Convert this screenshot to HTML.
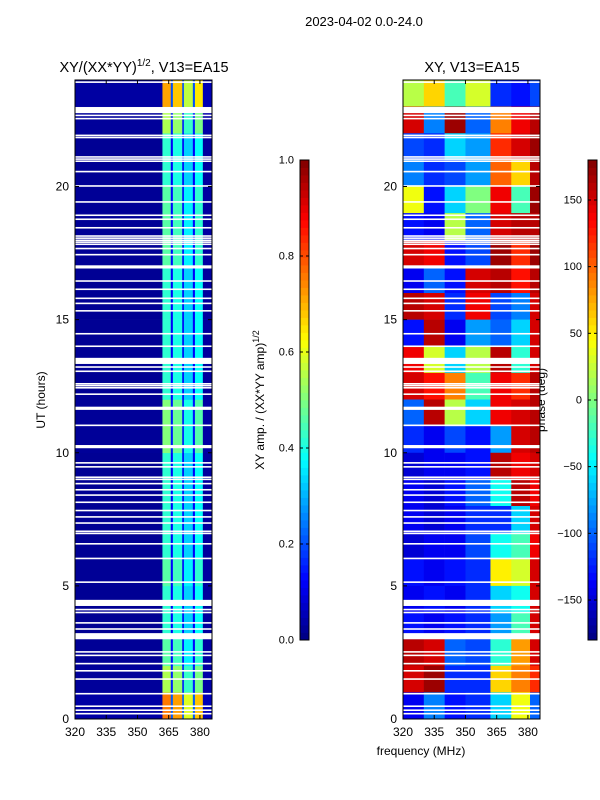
<!DOCTYPE html>
<html><head><meta charset="utf-8"><style>
html,body{margin:0;padding:0;background:#fff;}
svg{display:block;font-family:"Liberation Sans",sans-serif;}
</style></head><body>
<svg id="fig" width="600" height="800" viewBox="0 0 600 800">
<rect width="600" height="800" fill="#fff"/>
<text x="364" y="26" font-size="13" text-anchor="middle">2023-04-02 0.0-24.0</text>
<text x="144" y="72" font-size="14.5" text-anchor="middle">XY/(XX*YY)<tspan font-size="10" dy="-6">1/2</tspan><tspan dy="6">, V13=EA15</tspan></text>
<text x="472" y="72" font-size="14.5" text-anchor="middle">XY, V13=EA15</text>
<text x="421" y="755" font-size="12" text-anchor="middle">frequency (MHz)</text>
<text x="45" y="400" font-size="12" text-anchor="middle" transform="rotate(-90 45 400)">UT (hours)</text>
<text x="264" y="400" font-size="12" text-anchor="middle" transform="rotate(-90 264 400)">XY amp. / (XX*YY amp)<tspan font-size="9" dy="-5">1/2</tspan></text>
<text x="545" y="400" font-size="12" text-anchor="middle" transform="rotate(-90 545 400)">phase (deg)</text>
<g id="left"></g>
<g id="right"></g>
<g id="axes"></g>
</svg>
<script>
// ---- data ----
const freqEdgesAmp = [320, 362, 366, 367, 371.5, 372.3, 376.6, 377.6, 381.4, 385.8];
const ampColumnLevels = [0.02, 0.42, 0.12, 0.4, 0.12, 0.33, 0.12, 0.38, 0.03];
// per-hour multiplier (hour 0-1 first)
const ampHourBoost = [1.8,1.3,1.1,1.0,1.0,1.1,1.0,1.0,1.0,1.0,1.2,1.2,1.0,1.0,1.0,1.0,1.0,1.1,1.1,1.1,1.0,1.0,1.3,1.7];
const freqEdgesPhase = [320, 330, 340, 350, 362, 372, 381, 385.8];
// phase rows, top (23-24 UT) to bottom (0-1 UT)
const phaseRows = [
 [20,60,-20,30,-120,-130,-110],
 [150,-90,170,-100,90,140,160],
 [-110,-120,-60,-80,120,150,170],
 [-90,-120,-110,-80,100,60,160],
 [40,-130,-60,0,140,-20,170],
 [-130,-140,20,-100,150,160,160],
 [150,140,-130,-110,170,120,170],
 [-140,-100,-130,150,160,130,160],
 [160,150,-120,140,-110,-90,150],
 [-130,160,-140,-80,-100,-60,150],
 [140,30,-60,20,160,-30,150],
 [150,130,90,-20,140,120,160],
 [-100,160,20,-60,140,150,160],
 [-120,-140,-110,-130,-80,150,160],
 [-150,-140,-140,-130,160,140,150],
 [-140,-150,-130,-100,-40,160,140],
 [-140,-150,-140,-120,-120,-60,150],
 [-150,-140,-140,-110,-40,-20,140],
 [-130,-140,-130,-120,50,30,150],
 [-140,-130,-140,-120,-60,-40,150],
 [-130,-140,-130,-120,-80,-20,150],
 [160,150,-100,-110,-30,80,150],
 [150,170,-120,-120,60,90,120],
 [-140,-90,-130,-120,-60,40,-100]
];
// flagged (white) time gaps: centre hour and width in hours
const gapHours = [23.92,22.87,22.67,22.55,21.92,21.84,21.11,21.03,20.95,20.56,20.02,19.42,18.92,18.77,18.45,18.14,18.06,17.98,17.91,17.83,17.67,17.44,16.98,16.45,16.14,15.80,15.61,15.33,14.47,14.00,13.45,13.22,13.06,12.59,12.52,12.44,12.20,11.67,11.03,10.23,9.62,9.47,9.08,9.00,8.84,8.61,8.41,8.14,7.83,7.59,7.36,7.05,6.97,6.58,6.03,5.14,4.36,4.11,4.00,3.61,3.38,3.11,2.52,2.39,2.08,1.81,1.50,0.95,0.48,0.33,0.20];
const gapWidths = [0.06,0.23,0.06,0.06,0.06,0.06,0.06,0.06,0.06,0.06,0.06,0.06,0.06,0.06,0.06,0.06,0.06,0.06,0.06,0.06,0.06,0.06,0.12,0.06,0.06,0.06,0.06,0.06,0.06,0.06,0.23,0.06,0.06,0.06,0.06,0.06,0.06,0.12,0.06,0.12,0.06,0.06,0.06,0.06,0.06,0.06,0.06,0.06,0.06,0.06,0.06,0.06,0.06,0.06,0.06,0.06,0.23,0.06,0.06,0.06,0.06,0.23,0.06,0.06,0.06,0.06,0.06,0.06,0.06,0.06,0.06];
const xTicks = [320,335,350,365,380];
const yTicks = [0,5,10,15,20];
const ampTicks = [0.0,0.2,0.4,0.6,0.8,1.0];
const phaseTicks = [-150,-100,-50,0,50,100,150];

// ---- scales ----
const NS="http://www.w3.org/2000/svg";
const Y0=719, Y1=80, FMIN=320, FMAX=385.8;
const yS = h => Y0 - (h/24)*(Y0-Y1);
const xL = f => 75 + (f-FMIN)/(FMAX-FMIN)*137;
const xR = f => 403 + (f-FMIN)/(FMAX-FMIN)*137;
function jet(v){v=Math.max(0,Math.min(1,v));
 const r=Math.max(0,Math.min(1,1.5-Math.abs(4*v-3))),g=Math.max(0,Math.min(1,1.5-Math.abs(4*v-2))),b=Math.max(0,Math.min(1,1.5-Math.abs(4*v-1)));
 return `rgb(${Math.round(r*255)},${Math.round(g*255)},${Math.round(b*255)})`;}
function mk(tag,attrs,parent){const e=document.createElementNS(NS,tag);for(const k in attrs)e.setAttribute(k,attrs[k]);parent.appendChild(e);return e;}

// ---- left amp heatmap ----
const L=document.getElementById('left');
for(let h=0;h<24;h++){for(let c=0;c<ampColumnLevels.length;c++){
 const v=ampColumnLevels[c]*ampHourBoost[h];
 const r=mk('rect',{x:xL(freqEdgesAmp[c]),y:yS(h+1),width:xL(freqEdgesAmp[c+1])-xL(freqEdgesAmp[c])+0.3,height:yS(h)-yS(h+1)+0.3,fill:jet(v)},L);
 
 
}}
// ---- right phase heatmap ----
const R=document.getElementById('right');
for(let i=0;i<phaseRows.length;i++){const h=23-i;for(let c=0;c<phaseRows[i].length;c++){
 const v=(phaseRows[i][c]+180)/360;
 const r=mk('rect',{x:xR(freqEdgesPhase[c]),y:yS(h+1),width:xR(freqEdgesPhase[c+1])-xR(freqEdgesPhase[c])+0.3,height:yS(h)-yS(h+1)+0.3,fill:jet(v)},R);
 
 
}}
// ---- gaps ----
const A=document.getElementById('axes');
for(let i=0;i<gapHours.length;i++){
 for(const x0 of [75,403]){
  const r=mk('rect',{x:x0,y:yS(gapHours[i]+gapWidths[i]/2),width:137,height:yS(gapHours[i]-gapWidths[i]/2)-yS(gapHours[i]+gapWidths[i]/2),fill:'#fff'},A);
  
  
 }
}
// ---- axes frames and ticks ----
for(const [x0,xs,nm] of [[75,xL,'left'],[403,xR,'right']]){
 const f=mk('rect',{x:x0,y:Y1,width:137,height:Y0-Y1,fill:'none',stroke:'#000','stroke-width':1},A);
 
 
 for(const t of xTicks){const x=xs(t);
  mk('line',{x1:x,x2:x,y1:Y0,y2:Y0-4,stroke:'#000'},A);mk('line',{x1:x,x2:x,y1:Y1,y2:Y1+4,stroke:'#000'},A);
  const tx=mk('text',{x:x,y:Y0+17,'font-size':12,'text-anchor':'middle'},A);tx.textContent=t;
  
  }
 for(const t of yTicks){const y=yS(t);
  mk('line',{x1:x0,x2:x0+4,y1:y,y2:y,stroke:'#000'},A);mk('line',{x1:x0+137,x2:x0+133,y1:y,y2:y,stroke:'#000'},A);
  const tx=mk('text',{x:x0-6,y:y+4,'font-size':12,'text-anchor':'end'},A);tx.textContent=t;
  
  }
}
// ---- colorbars ----
const CB0=640, CB1=160;
function colorbar(x,vmin,vmax,ticks,fmt,nm){
 const g=mk('g',{},A);
 
 
 const n=64;for(let k=0;k<n;k++){const y=CB0-(k+1)*(CB0-CB1)/n;
  mk('rect',{x:x,y:y,width:9,height:(CB0-CB1)/n+0.4,fill:jet((k+0.5)/n)},g);}
 mk('rect',{x:x,y:CB1,width:9,height:CB0-CB1,fill:'none',stroke:'#000'},g);
 for(const t of ticks){const y=CB0-(t-vmin)/(vmax-vmin)*(CB0-CB1);
  mk('line',{x1:x,x2:x+3,y1:y,y2:y,stroke:'#000'},g);mk('line',{x1:x+9,x2:x+6,y1:y,y2:y,stroke:'#000'},g);
  const tx=mk('text',{x:x-6,y:y+3.5,'font-size':11,'text-anchor':'end'},g);tx.textContent=fmt(t);
  
  }
}
colorbar(300,0,1,ampTicks,t=>t.toFixed(1),'amp-colorbar');
colorbar(588,-180,180,phaseTicks,t=>t<0?'\u2212'+(-t):String(t),'phase-colorbar');
</script>
</body></html>
